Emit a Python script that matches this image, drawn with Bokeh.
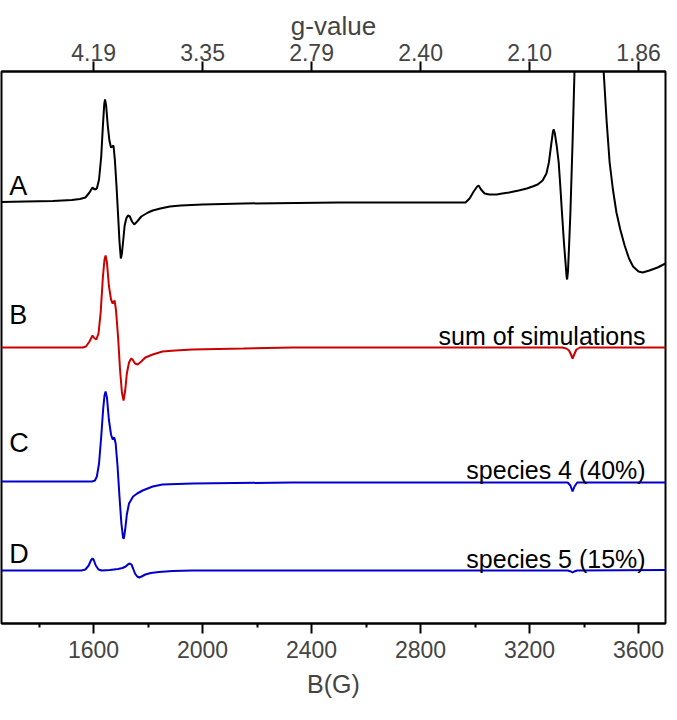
import numpy as np
from bokeh.plotting import figure
from bokeh.models import LinearAxis, FixedTicker, Range1d, Label
from bokeh.embed import file_html
from bokeh.resources import INLINE

# ---------------- data ----------------
# Trace A: experimental spectrum (field in G, intensity in arbitrary units)
a_field = [1262, 1350, 1450, 1520, 1550, 1570, 1585, 1596, 1604, 1612, 1620, 1628, 1634, 1639,
           1642, 1646, 1652, 1658, 1664, 1669, 1673, 1678, 1684, 1690, 1695, 1700, 1704, 1709,
           1714, 1720, 1726, 1733, 1741, 1749, 1760, 1775, 1800, 1817, 1845, 1880, 1920, 2000,
           2150, 2500, 2800, 2965, 2980, 2995, 3008, 3013, 3022, 3035, 3052, 3080, 3100, 3125,
           3160, 3190, 3211, 3230, 3248, 3262, 3271, 3280, 3286, 3289, 3293, 3300, 3307, 3313,
           3319, 3326, 3332, 3336, 3338, 3341, 3345, 3350, 3358, 3365, 3380, 3460, 3472, 3483,
           3494, 3506, 3519, 3533, 3549, 3565, 3580, 3600, 3615, 3640, 3670, 3699]
a_signal = [-0.5, 0, 0.5, 1.5, 2.5, 4, 9, 14, 12, 13, 22, 45, 75, 97,
            102, 96, 76, 61, 54, 55, 56, 42, 16, -14, -40, -57, -52, -38,
            -24, -17, -14, -15, -20, -23, -20, -15, -11, -9, -7, -5, -4, -3,
            -2, -1, -1, -1, 3, 10, 15, 16, 12, 8, 7, 7, 8, 9,
            11, 13, 15, 17, 21, 28, 39, 58, 70, 72, 68, 55, 39, 15,
            -11, -40, -61, -75, -78, -70, -45, -11, 60, 130, 350, 350, 130, 80,
            39, 12, -11, -28, -44, -57, -65, -70, -71, -69, -66, -62]

# Trace B: sum of simulations
b_field = [1262, 1560, 1572, 1585, 1596, 1604, 1610, 1618, 1626, 1634, 1640, 1644, 1649, 1656,
           1664, 1670, 1677, 1682, 1690, 1697, 1704, 1710, 1716, 1722, 1730, 1738, 1743, 1752,
           1762, 1775, 1790, 1817, 1853, 1900, 1963, 2150, 2330, 3320, 3335, 3345, 3352, 3358,
           3364, 3372, 3385, 3699]
b_signal = [0, 0, 1, 6, 12, 9, 8, 14, 35, 70, 88, 92, 85, 62,
            48, 44, 47, 38, 10, -22, -45, -53, -43, -26, -15, -11, -12, -16,
            -17, -14, -10, -7, -4, -3, -2, -1, 0, 0, -1, -3, -7, -11,
            -7, -2, 0, 0]

# Trace C: species 4 (40%)
c_field = [1262, 1595, 1605, 1612, 1620, 1628, 1635, 1640, 1644, 1649, 1656, 1664, 1670, 1676,
           1681, 1688, 1695, 1702, 1708, 1711, 1716, 1722, 1730, 1745, 1760, 1780, 1817, 1853,
           1963, 2330, 3340, 3350, 3358, 3365, 3375, 3699]
c_signal = [0, 0, 1, 5, 18, 45, 72, 86, 90, 84, 62, 47, 42, 44,
            38, 15, -15, -42, -56, -57, -48, -33, -22, -15, -12, -9, -5, -3,
            -2, -1, -1, -4, -10, -5, -1, -1]

# Trace D: species 5 (15%)
d_field = [1262, 1555, 1570, 1582, 1590, 1596, 1600, 1608, 1618, 1630, 1660, 1690, 1706, 1718,
           1726, 1733, 1739, 1745, 1752, 1760, 1768, 1776, 1790, 1810, 1840, 1890, 1963, 3340,
           3352, 3358, 3364, 3375, 3699]
d_signal = [0, 0, 1, 5, 10, 12, 11, 5, 1, 0, 0.5, 1.5, 2.5, 4,
            6, 7, 6, 2, -3, -6, -7, -6, -4, -2.5, -1.5, -0.5, 0, 0,
            -1, -2, -1, 0, 0.5]

trace_names = ["A", "B", "C", "D"]
trace_offsets = [422, 276, 142, 53]
trace_colors = ["#000000", "#cc0000", "#0000cc", "#0000cc"]

annotation_texts = ["sum of simulations", "species 4 (40%)", "species 5 (15%)"]

b_ticks = [1600, 2000, 2400, 2800, 3200, 3600]
b_minor_ticks = [1400, 1800, 2200, 2600, 3000, 3400]
g_tick_labels = ["4.19", "3.35", "2.79", "2.40", "2.10", "1.86"]

FONT = "Liberation Sans"

# ---------------- figure ----------------
p = figure(width=669, height=712,
           x_range=Range1d(1262, 3699), y_range=Range1d(0, 552),
           output_backend="svg", toolbar_location=None,
           y_axis_location=None,
           min_border_left=1, min_border_right=4,
           min_border_top=71, min_border_bottom=89)

p.xgrid.visible = False
p.ygrid.visible = False
p.outline_line_color = "black"
p.outline_line_width = 2
p.outline_line_alpha = 1.0
p.background_fill_color = "white"
p.border_fill_color = "white"

# bottom axis
xa = p.xaxis[0]
xa.ticker = FixedTicker(ticks=b_ticks, minor_ticks=b_minor_ticks)
xa.axis_label = "B(G)"
xa.axis_label_text_font = FONT
xa.axis_label_text_font_style = "normal"
xa.axis_label_text_font_size = "25px"
xa.axis_label_standoff = 9
xa.major_label_text_font = FONT
xa.major_label_text_font_size = "23px"
xa.major_label_standoff = 7
xa.axis_line_width = 2
xa.major_tick_line_width = 2
xa.minor_tick_line_width = 2
xa.major_tick_out = 10
xa.major_tick_in = 0
xa.minor_tick_out = 4
xa.minor_tick_in = 0

# top axis (g-values)
ta = LinearAxis(ticker=FixedTicker(ticks=b_ticks, minor_ticks=[]),
                major_label_overrides={t: g for t, g in zip(b_ticks, g_tick_labels)})
ta.axis_label = "g-value"
ta.axis_label_text_font = FONT
ta.axis_label_text_font_style = "normal"
ta.axis_label_text_font_size = "26px"
ta.axis_label_standoff = 0
ta.major_label_text_font = FONT
ta.major_label_text_font_size = "23px"
ta.major_label_standoff = 1
ta.axis_line_width = 2
ta.major_tick_line_width = 2
ta.major_tick_out = 10
ta.major_tick_in = 0
ta.minor_tick_line_color = None
p.add_layout(ta, "above")

# traces
fields = [a_field, b_field, c_field, d_field]
signals = [a_signal, b_signal, c_signal, d_signal]
for fld, sig, off, col in zip(fields, signals, trace_offsets, trace_colors):
    p.line(fld, np.array(sig, dtype=float) + off, line_color=col, line_width=2)

# trace letters
letter_x = 1290
letter_dy = {"A": 16, "B": 33, "C": 39, "D": 17}
for name, off in zip(trace_names, trace_offsets):
    p.add_layout(Label(x=letter_x, y=off + letter_dy[name], text=name, text_font=FONT,
                       text_font_size="27px", text_baseline="middle", text_align="left",
                       text_color="black"))

# annotations (right aligned)
ann_x = 3626
for txt, off in zip(annotation_texts, trace_offsets[1:]):
    p.add_layout(Label(x=ann_x, y=off + 12, text=txt, text_font=FONT,
                       text_font_size="25px", text_baseline="alphabetic", text_align="right",
                       text_color="black"))

open("out.html", "w").write(file_html(p, INLINE))
